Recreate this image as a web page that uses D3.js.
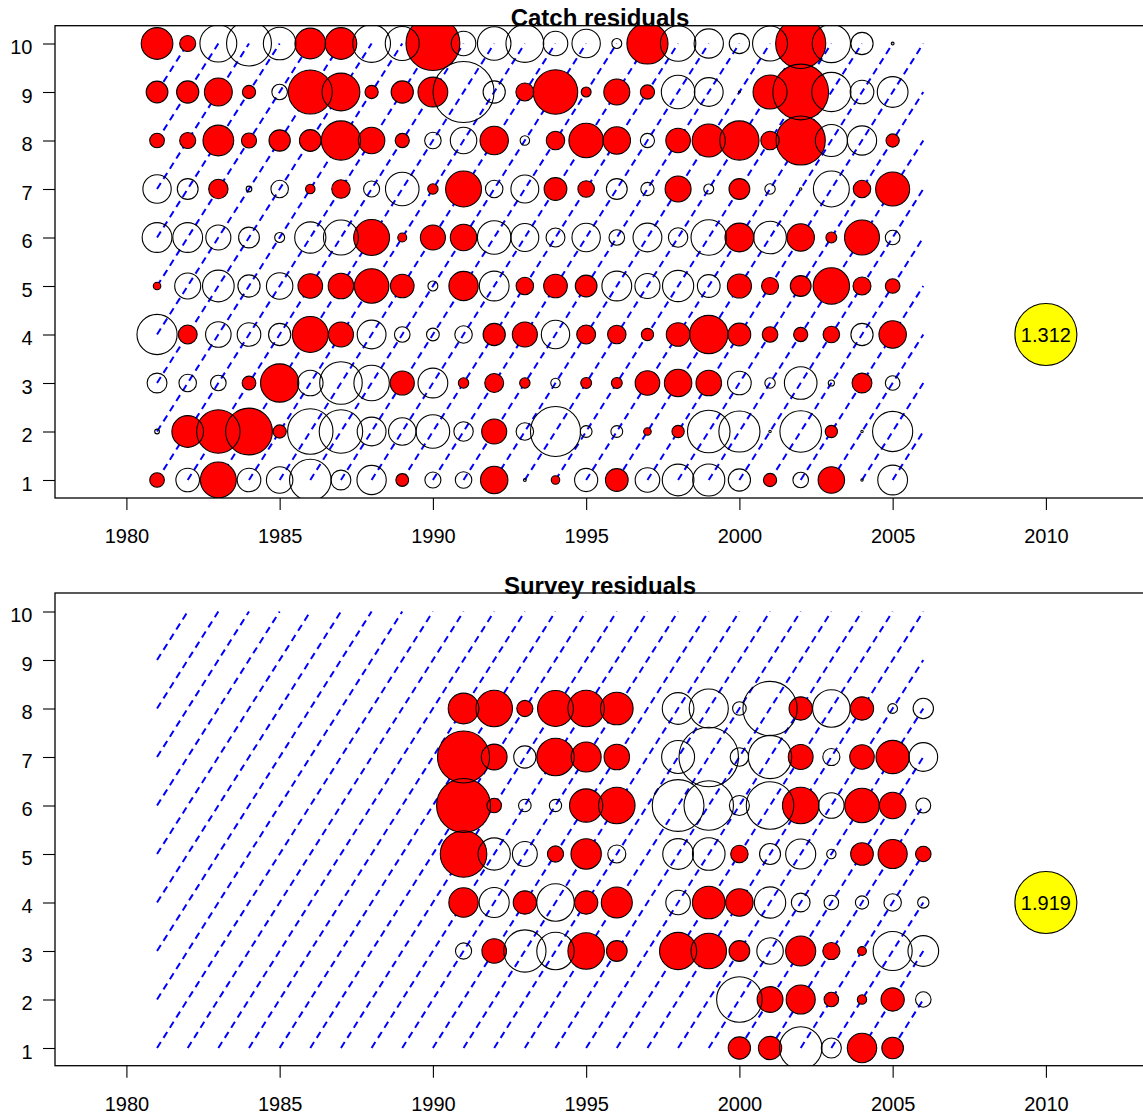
<!DOCTYPE html>
<html><head><meta charset="utf-8">
<script src="https://cdn.jsdelivr.net/npm/d3@7"></script>
<style>body{margin:0;background:#fff} svg{display:block}</style>
</head><body>
<svg id="c" width="1143" height="1117"></svg>
<script>
// ---------- DATA ----------
const catchYears = [1981,1982,1983,1984,1985,1986,1987,1988,1989,1990,1991,1992,1993,1994,1995,1996,1997,1998,1999,2000,2001,2002,2003,2004,2005];
const surveyYears = [1991,1992,1993,1994,1995,1996,1997,1998,1999,2000,2001,2002,2003,2004,2005,2006];
const yTicks = [1,2,3,4,5,6,7,8,9,10];
const xTicks = [1980,1985,1990,1995,2000,2005,2010];
const catchLegendMax = 1.312;
const surveyLegendMax = 1.919;

// catch residuals by age (positive = filled red, negative = open)
const catchAge10 = [0.67,0.34,-0.78,-0.95,-0.69,0.65,0.67,-0.80,-0.72,1.14,-0.52,-0.71,-0.80,-0.52,-0.60,-0.21,0.87,-0.75,-0.62,-0.43,-0.74,1.06,-0.81,-0.47,-0.06];
const catchAge9  = [0.46,0.47,0.59,0.28,-0.33,0.93,0.80,0.28,0.47,0.63,-1.29,-0.47,0.38,0.94,0.21,0.55,0.30,-0.71,-0.61,-0.04,0.72,1.18,-0.83,-0.50,-0.65];
const catchAge8  = [0.31,0.34,0.65,0.32,0.45,0.46,0.83,0.56,0.30,-0.35,-0.56,0.60,-0.20,0.39,0.73,0.58,-0.30,0.52,0.70,0.83,0.39,1.04,-0.68,-0.62,0.28];
const catchAge7  = [-0.60,-0.44,0.41,-0.12,-0.37,0.20,0.39,-0.34,-0.71,0.22,0.76,-0.37,-0.59,0.48,0.35,-0.44,-0.28,0.55,-0.21,0.44,-0.22,-0.05,-0.76,0.37,0.72];
const catchAge6  = [-0.63,-0.63,-0.53,-0.44,-0.21,-0.66,-0.74,0.76,0.19,0.53,0.56,-0.71,-0.59,-0.40,-0.60,-0.33,-0.61,-0.41,-0.75,0.61,-0.69,0.58,0.23,0.74,-0.31];
const catchAge5  = [0.16,-0.55,-0.67,-0.47,-0.56,0.52,0.54,0.73,0.50,-0.21,0.62,-0.63,0.37,0.50,0.46,-0.63,-0.53,-0.66,-0.48,0.51,0.36,0.44,0.77,0.38,0.31];
const catchAge4  = [-0.85,0.40,-0.54,-0.50,-0.47,0.76,0.53,-0.61,-0.33,-0.27,-0.37,0.47,0.53,-0.60,0.40,0.39,0.26,0.50,0.81,0.48,0.33,0.30,0.35,-0.47,0.58];
const catchAge3  = [-0.42,-0.37,-0.33,0.29,0.81,-0.54,-0.90,-0.75,0.51,-0.63,0.22,0.40,0.22,-0.20,0.23,0.23,0.52,0.58,0.54,-0.50,-0.22,-0.69,-0.13,0.42,-0.31];
const catchAge2  = [-0.10,0.67,0.92,0.99,0.28,-0.96,-0.92,-0.61,-0.58,-0.71,-0.41,0.53,-0.37,-1.06,-0.25,-0.25,0.16,0.26,-0.90,-0.87,-0.05,-0.88,0.26,-0.05,-0.85];
const catchAge1  = [0.31,-0.50,0.76,-0.50,-0.56,-0.88,-0.42,-0.62,0.27,-0.34,-0.35,0.58,-0.06,0.18,-0.49,0.48,-0.52,-0.67,-0.68,-0.47,0.28,-0.33,0.56,-0.05,-0.63];

// survey residuals by age (null = no observation)
const surveyAge8 = [0.95,1.13,0.50,1.11,1.13,1.01,null,-0.98,-1.21,-0.42,-1.68,0.72,-1.16,0.72,-0.30,-0.63];
const surveyAge7 = [1.61,0.80,-0.69,1.16,0.93,0.79,null,-1.02,-1.84,-0.57,-1.34,0.77,-0.53,0.76,1.03,-0.89];
const surveyAge6 = [1.67,0.45,-0.39,-0.38,1.03,1.13,null,-1.60,-1.53,-0.62,-1.47,1.13,-0.79,1.07,0.82,-0.46];
const surveyAge5 = [1.44,-1.00,-0.77,0.50,0.94,-0.56,null,-0.95,-1.01,0.54,-0.65,-0.93,-0.29,0.70,0.90,0.48];
const surveyAge4 = [0.91,-0.93,0.72,-1.16,0.72,0.96,null,-0.76,1.01,0.85,-0.97,-0.58,-0.45,-0.41,-0.54,-0.35];
const surveyAge3 = [-0.50,0.76,-1.31,-1.16,1.13,0.64,null,1.15,1.10,0.64,-0.82,0.93,0.53,0.27,-1.21,-0.95];
const surveyAge2 = [null,null,null,null,null,null,null,null,null,-1.41,0.80,0.90,0.45,0.29,0.72,-0.48];
const surveyAge1 = [null,null,null,null,null,null,null,null,null,0.69,0.72,-1.32,-0.62,0.91,0.67,null];

const catchRows = [[1,catchAge1],[2,catchAge2],[3,catchAge3],[4,catchAge4],[5,catchAge5],[6,catchAge6],[7,catchAge7],[8,catchAge8],[9,catchAge9],[10,catchAge10]];
const surveyRows = [[1,surveyAge1],[2,surveyAge2],[3,surveyAge3],[4,surveyAge4],[5,surveyAge5],[6,surveyAge6],[7,surveyAge7],[8,surveyAge8]];

// cohort-line extent (years and ages shown)
const lineYears = [1981, 2006];
const lineAges = [1, 10];

// ---------- DRAW ----------
const svg = d3.select("#c");
const FONT = "'Liberation Sans', Arial, Helvetica, sans-serif";
const x = d3.scaleLinear().domain([1980, 2010]).range([126.4, 1045.9]);
const boxLeft = 55, boxRight = 1170;

function panel(cfg) {
  const y = d3.scaleLinear().domain([1, 10]).range([cfg.bottomRow, cfg.topRow]);
  const r = d3.scaleLinear().domain([0, cfg.legendMax]).range([0, 31]);
  const g = svg.append("g");
  const clipId = "clip" + cfg.id;
  svg.append("clipPath").attr("id", clipId).append("rect")
    .attr("x", boxLeft).attr("y", cfg.top).attr("width", boxRight - boxLeft).attr("height", cfg.bottom - cfg.top);
  const inner = g.append("g").attr("clip-path", `url(#${clipId})`);

  // cohort lines
  const cohorts = d3.range(lineYears[0] - lineAges[1], lineYears[1] - lineAges[0] + 1);
  const segs = [];
  cohorts.forEach(c => {
    const y0 = Math.max(lineYears[0], c + lineAges[0]);
    const y1 = Math.min(lineYears[1], c + lineAges[1]);
    if (y1 > y0) segs.push([y0, y0 - c, y1, y1 - c]);
  });
  inner.append("g").selectAll("line").data(segs).join("line")
    .attr("x1", d => x(d[0])).attr("y1", d => y(d[1]))
    .attr("x2", d => x(d[2])).attr("y2", d => y(d[3]))
    .attr("stroke", "#0000FF").attr("stroke-width", 2).attr("stroke-dasharray", "7,5");

  // bubbles
  const pts = [];
  cfg.rows.forEach(([age, vals]) => vals.forEach((v, i) => {
    if (v !== null) pts.push({year: cfg.years[i], age, v});
  }));
  inner.append("g").selectAll("circle").data(pts.filter(d => d.v > 0)).join("circle")
    .attr("cx", d => x(d.year)).attr("cy", d => y(d.age)).attr("r", d => r(Math.abs(d.v)))
    .attr("fill", "#FF0000").attr("stroke", "none");
  inner.append("g").selectAll("circle").data(pts).join("circle")
    .attr("cx", d => x(d.year)).attr("cy", d => y(d.age)).attr("r", d => r(Math.abs(d.v)))
    .attr("fill", "none").attr("stroke", "#000").attr("stroke-width", 1.1);

  // legend bubble
  inner.append("circle").attr("cx", x(2010)).attr("cy", y(4)).attr("r", r(cfg.legendMax))
    .attr("fill", "#FFFF00").attr("stroke", "#000").attr("stroke-width", 1.1);
  inner.append("text").attr("x", x(2010)).attr("y", y(4)).attr("dy", "0.38em")
    .attr("text-anchor", "middle").attr("font-family", FONT).attr("font-size", 20)
    .text(d3.format(".3f")(cfg.legendMax));

  // box
  g.append("rect").attr("x", boxLeft).attr("y", cfg.top).attr("width", boxRight - boxLeft)
    .attr("height", cfg.bottom - cfg.top).attr("fill", "none").attr("stroke", "#000").attr("stroke-width", 1.3);

  // axes
  const xa = g.append("g").attr("transform", `translate(0,${cfg.bottom})`)
    .call(d3.axisBottom(x).tickValues(xTicks).tickFormat(d3.format("d")).tickSize(12).tickPadding(18.8));
  const ya = g.append("g").attr("transform", `translate(${boxLeft},0)`)
    .call(d3.axisLeft(y).tickValues(yTicks).tickFormat(d3.format("d")).tickSize(12).tickPadding(10.5));
  [xa, ya].forEach(a => {
    a.select(".domain").remove();
    a.selectAll("line").attr("stroke", "#000").attr("stroke-width", 1.1);
    a.selectAll("text").attr("font-family", FONT).attr("font-size", 20).attr("fill", "#000");
  });
  ya.selectAll("text").attr("dy", "0.52em");

  // title
  g.append("text").attr("x", 600).attr("y", cfg.top + 0.5).attr("text-anchor", "middle")
    .attr("font-family", FONT).attr("font-size", 24).attr("font-weight", "bold").text(cfg.title);
}

panel({id: 1, title: "Catch residuals", top: 25.7, bottom: 498, topRow: 43.5, bottomRow: 480,
       rows: catchRows, years: catchYears, legendMax: catchLegendMax});
panel({id: 2, title: "Survey residuals", top: 593, bottom: 1065.7, topRow: 611.5, bottomRow: 1048,
       rows: surveyRows, years: surveyYears, legendMax: surveyLegendMax});
</script>
</body></html>
